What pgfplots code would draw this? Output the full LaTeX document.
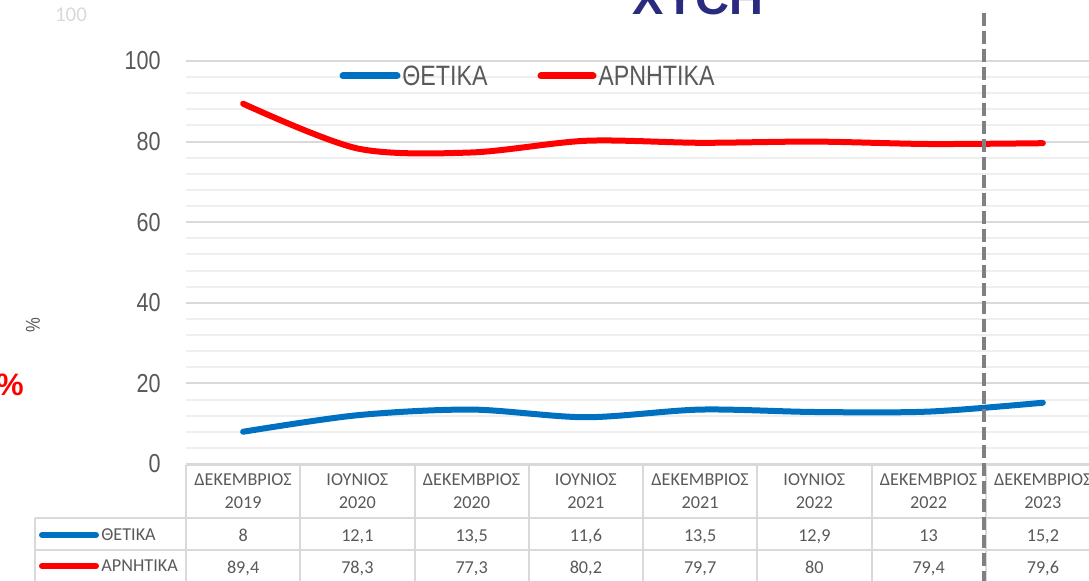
\documentclass[border=0pt]{standalone}
\usepackage{pgfplots}
\pgfplotsset{compat=1.18}
\usepackage{fontspec}
\setmainfont{Liberation Sans}
\newfontfamily\narrowfont[FakeStretch=0.83]{Liberation Sans}
\newfontfamily\calib{Carlito}
\definecolor{txtgray}{HTML}{595959}
\definecolor{gridmaj}{HTML}{D9D9D9}
\definecolor{gridmin}{HTML}{EFEFEF}
\definecolor{tblline}{HTML}{D9D9D9}
\definecolor{xlblue}{HTML}{0070C0}
\definecolor{xlred}{HTML}{FF0000}
\definecolor{dashgray}{HTML}{808080}
\definecolor{navy}{HTML}{2A2A7E}
\pgfplotstableread{
x pos neg
0 8    89.4
1 12.1 78.3
2 13.5 77.3
3 11.6 80.2
4 13.5 79.7
5 12.9 80
6 13   79.4
7 15.2 79.6
}\datatable
\tikzset{tbl/.style={anchor=base, inner sep=0pt, text=txtgray, font=\calib\fontsize{9.1}{9.1}\selectfont}}
\begin{document}
\begin{tikzpicture}
\useasboundingbox (0,0) rectangle (544.5pt,290.5pt);
\clip (0,0) rectangle (544.5pt,290.5pt);
\begin{axis}[
  at={(93pt,58.5pt)}, anchor=south west,
  scale only axis, width=457pt, height=201.5pt,
  xmin=-0.5, xmax=7.5, ymin=0, ymax=100,
  axis line style={draw=none},
  major tick style={draw=none}, minor tick style={draw=none},
  xtick=\empty,
  ytick={0,20,40,60,80,100},
  minor ytick={4,8,12,16,24,28,32,36,44,48,52,56,64,68,72,76,84,88,92,96},
  ymajorgrids, yminorgrids,
  major grid style={draw=gridmaj, line width=1pt},
  minor grid style={draw=gridmin, line width=1pt},
  /pgf/number format/assume math mode=true,
  yticklabel style={font=\narrowfont\fontsize{13}{13}\selectfont, text=txtgray, anchor=east, inner sep=0pt, xshift=-12.5pt},
]
\addplot[smooth, line width=3pt, color=xlblue, line cap=round] table[x=x, y=pos] {\datatable};
\addplot[smooth, line width=3pt, color=xlred, line cap=round] table[x=x, y=neg] {\datatable};
\end{axis}
\begin{scope}[shift={(0pt,290.5pt)}, x=0.5pt, y=-0.5pt]
  \draw[xlblue, line width=3.5pt, line cap=round] (343,76) -- (397,76);
  \node[anchor=west, inner sep=0pt, text=txtgray, font=\narrowfont\fontsize{14}{14}\selectfont] at (402,76) {ΘΕΤΙΚΑ};
  \draw[xlred, line width=3.5pt, line cap=round] (541,76) -- (593,76);
  \node[anchor=west, inner sep=0pt, text=txtgray, font=\narrowfont\fontsize{14}{14}\selectfont] at (598,76) {ΑΡΝΗΤΙΚΑ};
  \draw[tblline, line width=1pt] (186,465) -- (1100,465);
  \draw[tblline, line width=1pt] (35,518) -- (1100,518);
  \draw[tblline, line width=1pt] (35,550) -- (1100,550);
  \draw[tblline, line width=1pt] (35,518) -- (35,590);
  \foreach \k in {0,...,8} {
    \draw[tblline, line width=1pt] ({186+114.25*\k},465) -- ({186+114.25*\k},590);
  }
  \foreach \i/\m/\yr in {0/ΔΕΚΕΜΒΡΙΟΣ/2019, 1/ΙΟΥΝΙΟΣ/2020, 2/ΔΕΚΕΜΒΡΙΟΣ/2020, 3/ΙΟΥΝΙΟΣ/2021, 4/ΔΕΚΕΜΒΡΙΟΣ/2021, 5/ΙΟΥΝΙΟΣ/2022, 6/ΔΕΚΕΜΒΡΙΟΣ/2022, 7/ΔΕΚΕΜΒΡΙΟΣ/2023} {
    \node[tbl] at ({186+114.25*(\i+0.5)},486) {\m};
    \node[tbl] at ({186+114.25*(\i+0.5)},509) {\yr};
  }
  \foreach \i/\v in {0/8, 1/{12,1}, 2/{13,5}, 3/{11,6}, 4/{13,5}, 5/{12,9}, 6/13, 7/{15,2}} {
    \node[tbl] at ({186+114.25*(\i+0.5)},542) {\v};
  }
  \foreach \i/\v in {0/{89,4}, 1/{78,3}, 2/{77,3}, 3/{80,2}, 4/{79,7}, 5/80, 6/{79,4}, 7/{79,6}} {
    \node[tbl] at ({186+114.25*(\i+0.5)},573.5) {\v};
  }
  \draw[xlblue, line width=3pt, line cap=round] (42,535) -- (96,535);
  \node[tbl, anchor=base west] at (101,540.5) {ΘΕΤΙΚΑ};
  \draw[xlred, line width=3pt, line cap=round] (42,566) -- (96,566);
  \node[tbl, anchor=base west] at (101,572) {ΑΡΝΗΤΙΚΑ};
  \draw[dashgray, line width=1.75pt, dash pattern=on 6.5pt off 2.5pt] (984,13) -- (984,590);
  \node[rotate=90, inner sep=0pt, text=txtgray, font=\narrowfont\fontsize{10}{10}\selectfont] at (33,325) {\%};
  \node[anchor=east, inner sep=0pt, text=xlred, font=\bfseries\fontsize{15.5}{15.5}\selectfont] at (24,385) {\%};
  \node[inner sep=0pt, text=gridmaj, font=\calib\fontsize{10.5}{10.5}\selectfont] at (71,15) {100};
  \node[anchor=base, inner sep=0pt, text=navy, font=\bfseries\fontsize{23.5}{23.5}\selectfont] at (698,15) {ΧΥCΗ};
\end{scope}
\end{tikzpicture}
\end{document}
